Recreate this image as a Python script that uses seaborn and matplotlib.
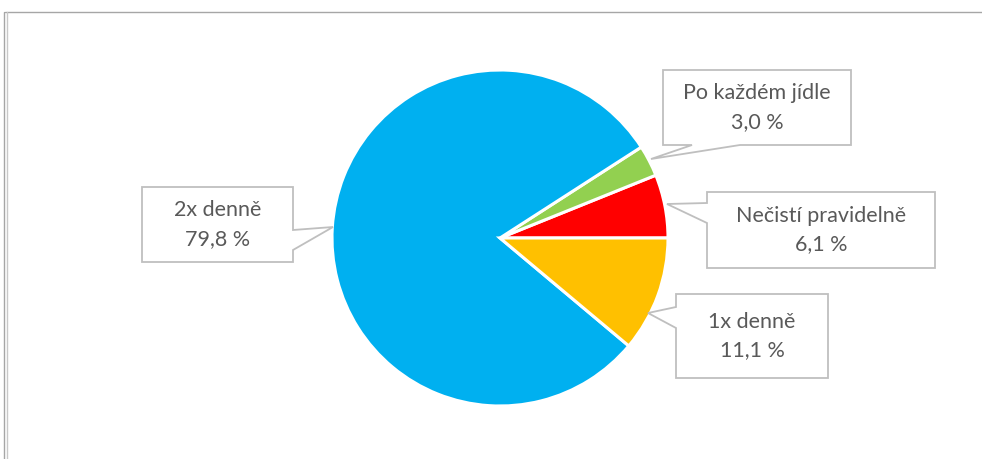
import matplotlib
matplotlib.use("Agg")
import matplotlib.pyplot as plt
from matplotlib.patches import Polygon
import seaborn as sns

# Survey answers: how often teeth are brushed (share of respondents, %)
categories = ["Nečistí pravidelně", "Po každém jídle", "2x denně", "1x denně"]
shares = [6.1, 3.0, 79.8, 11.1]
colors = ["#FF0000", "#92D050", "#00B0F0", "#FFC000"]

sns.set_theme(style="white")
plt.rcParams["font.family"] = ["Lato", "DejaVu Sans"]

W, H = 982, 459
fig = plt.figure(figsize=(W / 100, H / 100), dpi=100)
ax = fig.add_axes([0, 0, 1, 1])


def Y(y):
    """Convert a top-down pixel row into the axes' y coordinate."""
    return H - y


# Pie, starting at 3 o'clock and running counter-clockwise
cx, cy, r = 500, 238, 168
ax.pie(shares, colors=colors, startangle=0, counterclock=True,
       center=(cx, Y(cy)), radius=r, frame=True,
       wedgeprops=dict(edgecolor="white", linewidth=2.2))
ax.set_xlim(0, W)
ax.set_ylim(0, H)
ax.set_aspect("equal")
ax.axis("off")

# Callout boxes: (x0, y0, x1, y1), side of the pointer, pointer base span, tip
callouts = {
    "Po každém jídle": ((663, 70, 851, 145), "bottom", (692, 740), (651, 159)),
    "Nečistí pravidelně": ((707, 192, 935, 268), "left", (203, 223), (667, 204)),
    "1x denně": ((676, 294, 828, 378), "left", (307, 328), (648, 313)),
    "2x denně": ((142, 187, 293, 262), "right", (230, 250), (333, 227)),
}


def callout_outline(box, side, base, tip):
    x0, y0, x1, y1 = box
    b0, b1 = base
    if side == "bottom":
        pts = [(x0, y0), (x1, y0), (x1, y1), (b1, y1), tip, (b0, y1), (x0, y1)]
    elif side == "left":
        pts = [(x0, y0), (x1, y0), (x1, y1), (x0, y1), (x0, b1), tip, (x0, b0)]
    else:  # right
        pts = [(x0, y0), (x1, y0), (x1, b0), tip, (x1, b1), (x1, y1), (x0, y1)]
    return [(px, Y(py)) for px, py in pts]


for name, value in zip(categories, shares):
    box, side, base, tip = callouts[name]
    ax.add_patch(Polygon(callout_outline(box, side, base, tip), closed=True,
                         facecolor="white", edgecolor="#BFBFBF", linewidth=1.3,
                         zorder=5))
    x0, y0, x1, y1 = box
    label = f"{name}\n{value:.1f} %".replace(".", ",")
    ax.text((x0 + x1) / 2, Y((y0 + y1) / 2), label, ha="center", va="center",
            fontsize=15.5, color="#595959", linespacing=1.55, zorder=6)

# Chart frame
ax.plot([5, W], [Y(12), Y(12)], color="#A6A6A6", lw=1.0)
ax.plot([4.5, 4.5], [Y(12), 0], color="#A6A6A6", lw=1.0)
ax.plot([7, 7], [Y(12), 0], color="#C8C8C8", lw=1.0)

fig.savefig("out.png", dpi=100)
